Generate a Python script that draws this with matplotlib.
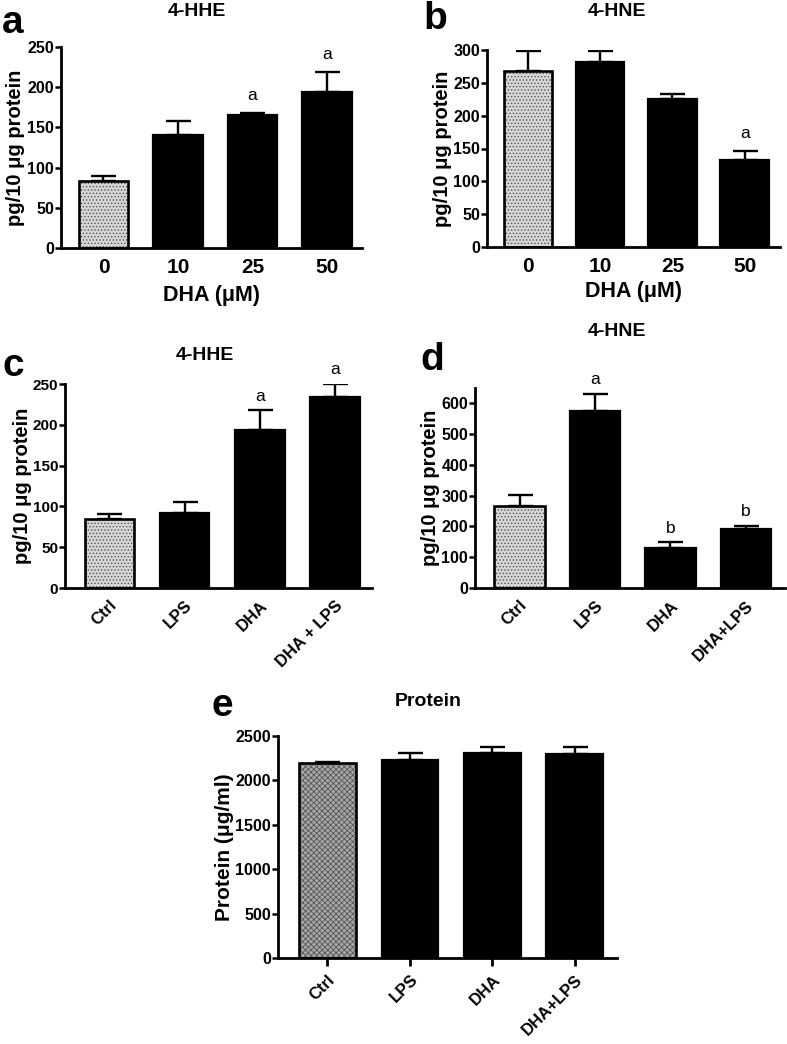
import matplotlib
matplotlib.use("Agg")
import matplotlib.pyplot as plt

plt.rcParams['font.family'] = ['Liberation Sans', 'DejaVu Sans']
plt.rcParams['hatch.linewidth'] = 0.6

W, H = 787, 1044

# ---------------- data ----------------
dha_doses = ["0", "10", "25", "50"]
treatments_c = ["Ctrl", "LPS", "DHA", "DHA + LPS"]
treatments_d = ["Ctrl", "LPS", "DHA", "DHA+LPS"]

hhe_dose_mean = [83, 141, 165, 194]
hhe_dose_err = [7, 17, 3, 25]
hhe_dose_sig = ["", "", "a", "a"]

hne_dose_mean = [268, 281, 226, 132]
hne_dose_err = [31, 18, 7, 14]
hne_dose_sig = ["", "", "", "a"]

hhe_trt_mean = [84, 92, 194, 234]
hhe_trt_err = [7, 13, 24, 16]
hhe_trt_sig = ["", "", "a", "a"]

hne_trt_mean = [266, 576, 131, 191]
hne_trt_err = [36, 56, 17, 11]
hne_trt_sig = ["", "a", "b", "b"]

protein_mean = [2192, 2230, 2305, 2294]
protein_err = [18, 82, 75, 86]


def make_ax(fig, left, right, y0, ytop):
    return fig.add_axes([left / W, (H - y0) / H, (right - left) / W, (y0 - ytop) / H])


def bar_panel(ax, labels, means, errs, sigs, ylim, yticks, xlim, width,
              ctrl_face='#d6d6d6', ctrl_hatch='.....', rot=0, xticks_visible=False,
              sig_offset=0.0, sig_fs=12.5, ytick_fs=11.5):
    x = list(range(len(labels)))
    ax.errorbar(x, means, yerr=[[0] * len(errs), errs], fmt='none', ecolor='black',
                elinewidth=1.7, capsize=9, capthick=1.7, zorder=1)
    ax.bar(x[0], means[0], width=width, color=ctrl_face, hatch=ctrl_hatch,
           edgecolor='#555555', linewidth=0, zorder=2)
    ax.bar(x[1:], means[1:], width=width, color='black', edgecolor='black',
           linewidth=1.6, zorder=2)
    ax.bar(x[0], means[0], width=width, fill=False, edgecolor='black',
           linewidth=1.9, zorder=3)
    for xi, m, e, s in zip(x, means, errs, sigs):
        if s:
            ax.text(xi, m + e + sig_offset, s, ha='center', va='bottom',
                    fontsize=sig_fs)
    ax.set_xlim(*xlim)
    ax.set_ylim(*ylim)
    ax.set_yticks(yticks)
    ax.set_xticks(x)
    if rot:
        ax.set_xticklabels(labels, rotation=rot, ha='right', rotation_mode='anchor',
                           fontweight='bold', fontsize=12)
    else:
        ax.set_xticklabels(labels, fontweight='bold', fontsize=15)
    for lab in ax.get_yticklabels():
        lab.set_fontweight('bold')
        lab.set_fontsize(ytick_fs)
    ax.spines['top'].set_visible(False)
    ax.spines['right'].set_visible(False)
    ax.spines['left'].set_linewidth(2)
    ax.spines['bottom'].set_linewidth(2)
    ax.tick_params(axis='y', length=4, width=1.8, pad=1)
    if xticks_visible:
        ax.tick_params(axis='x', length=6, width=2, pad=4)
    else:
        ax.tick_params(axis='x', length=0, pad=7)
    ax.set_facecolor('none')


fig = plt.figure(figsize=(W / 100, H / 100), dpi=100)

ylab = 'pg/10 μg protein'
YL = 14.5
TT = 14
PL = 28

# panel a
ax = make_ax(fig, 61, 362, 248, 47)
bar_panel(ax, dha_doses, hhe_dose_mean, hhe_dose_err, hhe_dose_sig,
          (0, 250), [0, 50, 100, 150, 200, 250], (-0.57, 3.47), 0.67, sig_offset=12)
ax.set_xlabel('DHA (μM)', fontsize=15.5, fontweight='bold', labelpad=6)
ax.set_ylabel(ylab, fontsize=YL, fontweight='bold')
ax.yaxis.set_label_coords((25 - 61) / (362 - 61), 0.5)
fig.text(2 / W, 1 - 23 / H, 'a', fontsize=PL, fontweight='bold', va='center')
fig.text(197 / W, 1 - 12 / H, '4-HHE', fontsize=TT, fontweight='bold', ha='center', va='center')

# panel b
ax = make_ax(fig, 487, 780, 247, 50)
bar_panel(ax, dha_doses, hne_dose_mean, hne_dose_err, hne_dose_sig,
          (0, 300), [0, 50, 100, 150, 200, 250, 300], (-0.57, 3.49), 0.67, sig_offset=15)
ax.set_xlabel('DHA (μM)', fontsize=15.5, fontweight='bold', labelpad=4)
ax.set_ylabel(ylab, fontsize=YL, fontweight='bold')
ax.yaxis.set_label_coords((452 - 487) / (780 - 487), 0.5)
fig.text(423 / W, 1 - 19 / H, 'b', fontsize=PL, fontweight='bold', va='center')
fig.text(617 / W, 1 - 12 / H, '4-HNE', fontsize=TT, fontweight='bold', ha='center', va='center')

# panel c
ax = make_ax(fig, 65, 372, 588, 384)
bar_panel(ax, treatments_c, hhe_trt_mean, hhe_trt_err, hhe_trt_sig,
          (0, 250), [0, 50, 100, 150, 200, 250], (-0.59, 3.49), 0.66, rot=45, sig_offset=8,
          ytick_fs=11)
ax.set_ylabel(ylab, fontsize=YL, fontweight='bold')
ax.yaxis.set_label_coords((32 - 65) / (372 - 65), 0.5)
fig.text(2 / W, 1 - 366 / H, 'c', fontsize=PL, fontweight='bold', va='center')
fig.text(205 / W, 1 - 355 / H, '4-HHE', fontsize=TT, fontweight='bold', ha='center', va='center')

# panel d
ax = make_ax(fig, 475, 785, 588, 388)
bar_panel(ax, treatments_d, hne_trt_mean, hne_trt_err, hne_trt_sig,
          (0, 650), [0, 100, 200, 300, 400, 500, 600], (-0.59, 3.52), 0.67, rot=45, sig_offset=22)
ax.set_ylabel(ylab, fontsize=YL, fontweight='bold')
ax.yaxis.set_label_coords((440 - 475) / (785 - 475), 0.5)
fig.text(420 / W, 1 - 360 / H, 'd', fontsize=PL, fontweight='bold', va='center')
fig.text(617 / W, 1 - 332 / H, '4-HNE', fontsize=TT, fontweight='bold', ha='center', va='center')

# panel e
ax = make_ax(fig, 278, 617, 958, 736)
bar_panel(ax, treatments_d, protein_mean, protein_err, ["", "", "", ""],
          (0, 2500), [0, 500, 1000, 1500, 2000, 2500], (-0.6, 3.51), 0.69, rot=45,
          ctrl_face='#a8a8a8', ctrl_hatch='xxxxxx', xticks_visible=True)
ax.set_ylabel('Protein (μg/ml)', fontsize=15, fontweight='bold')
ax.yaxis.set_label_coords((234 - 278) / (617 - 278), 0.5)
fig.text(212 / W, 1 - 706 / H, 'e', fontsize=PL, fontweight='bold', va='center')
fig.text(428 / W, 1 - 702 / H, 'Protein', fontsize=TT, fontweight='bold', ha='center', va='center')

fig.savefig('out.png', dpi=100, facecolor='white')
